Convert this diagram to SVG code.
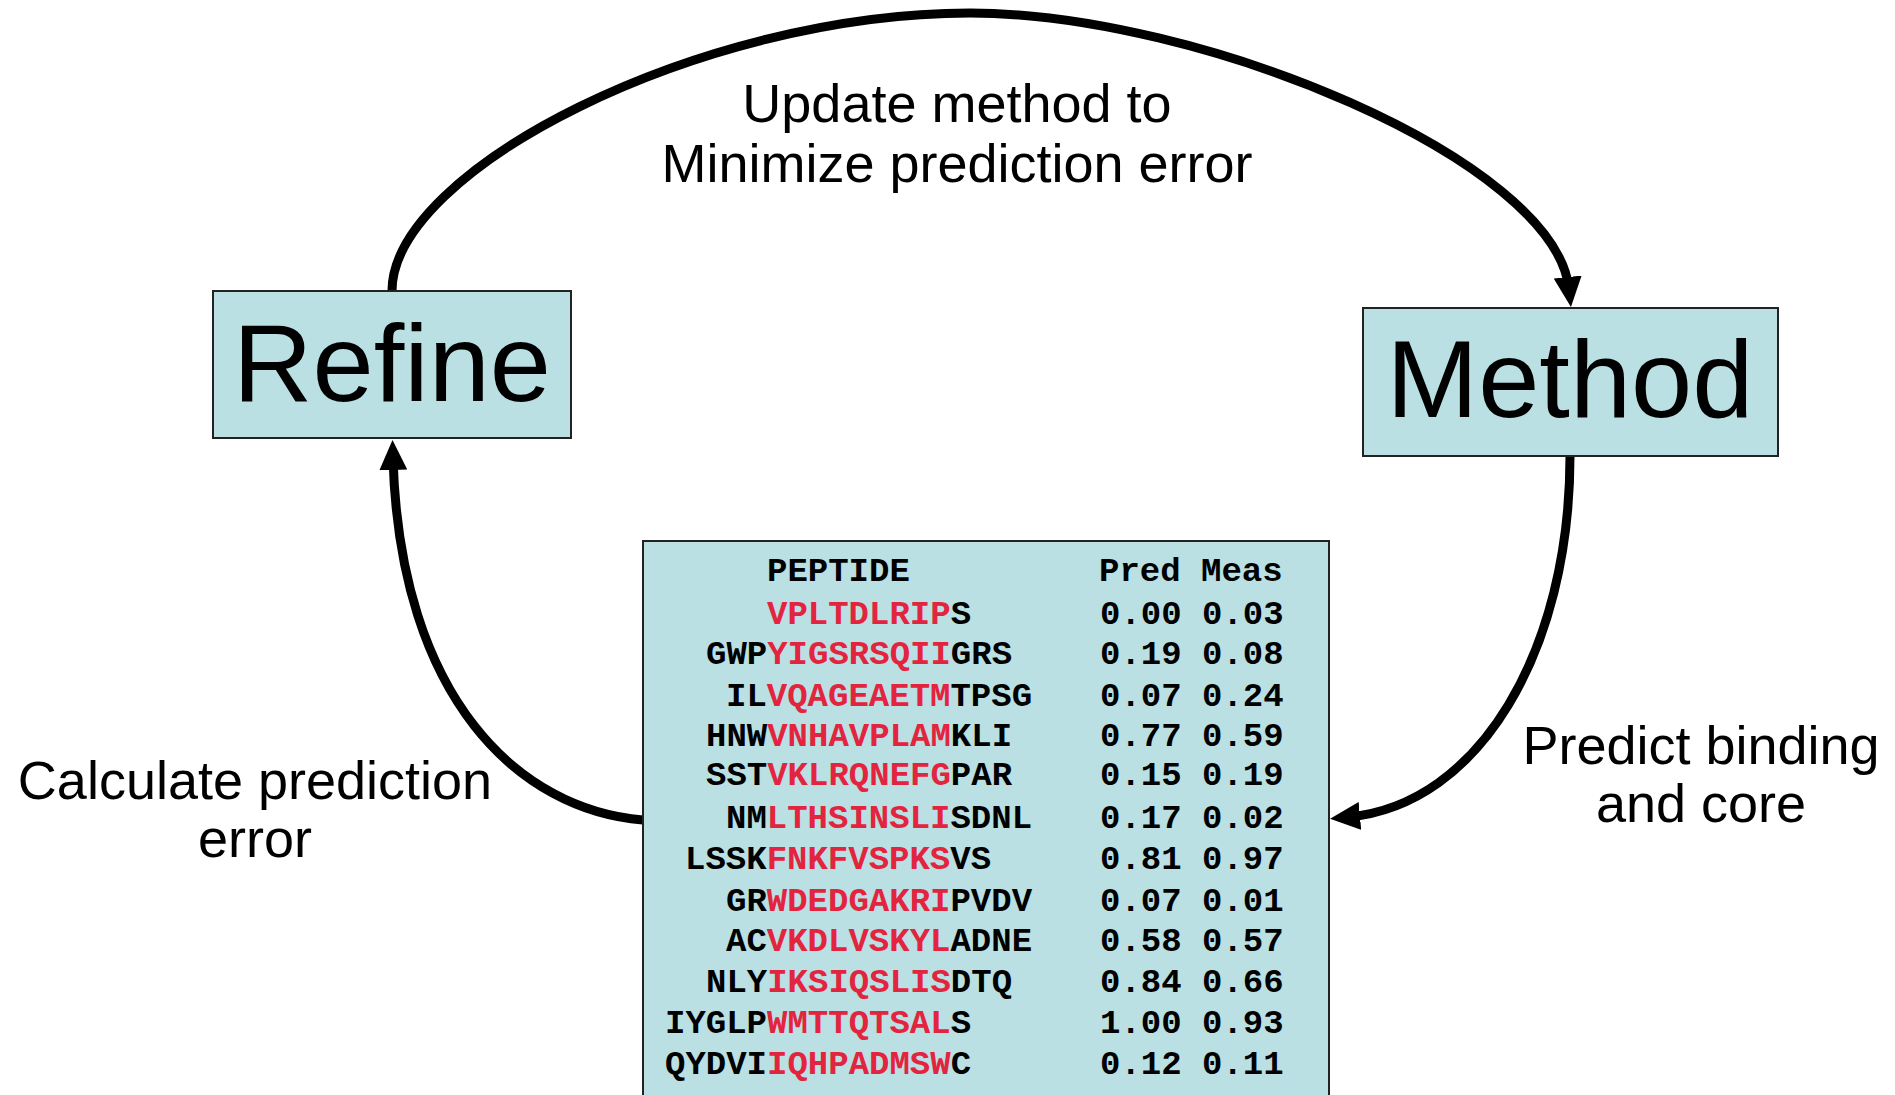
<svg xmlns="http://www.w3.org/2000/svg" width="1895" height="1095" viewBox="0 0 1895 1095">
<style>
.box{fill:#bae0e3;stroke:#222;stroke-width:2}
.big{font-family:"Liberation Sans",Arial,sans-serif;font-size:110px;fill:#000;text-anchor:middle}
.lbl{font-family:"Liberation Sans",Arial,sans-serif;font-size:54px;fill:#000;text-anchor:middle}
.mono{font-family:"Liberation Mono","Courier New",monospace;font-size:34px;font-weight:bold;fill:#000}
.core{fill:#e3243f}
.conn{fill:none;stroke:#000;stroke-width:9;marker-end:url(#ah)}
</style>
<defs>
<marker id="ah" markerUnits="userSpaceOnUse" viewBox="0 0 30 28" refX="12" refY="14" markerWidth="30" markerHeight="28" orient="auto">
<path d="M0,0 L30,14 L0,28 z" fill="#000"/>
</marker>
</defs>
<g id="connectors">
<path class="conn" d="M 392 291 C 392 170, 700 13, 970 13 C 1200 13, 1555 160, 1569 289"/>
<path class="conn" d="M 1570 456 C 1570 650, 1480 805, 1348 817"/>
<path class="conn" d="M 643 820 C 520 810, 400 700, 393 458"/>
</g>
<g id="label-update">
<text class="lbl" x="957" y="122">Update method to</text>
<text class="lbl" x="957" y="182">Minimize prediction error</text>
</g>
<g id="label-calc">
<text class="lbl" x="255" y="799">Calculate prediction</text>
<text class="lbl" x="255" y="857">error</text>
</g>
<g id="label-predict">
<text class="lbl" x="1701" y="764">Predict binding</text>
<text class="lbl" x="1701" y="822">and core</text>
</g>
<g id="refine">
<rect class="box" x="213" y="291" width="358" height="147"/>
<text class="big" x="392" y="401">Refine</text>
</g>
<g id="method">
<rect class="box" x="1363" y="308" width="415" height="148"/>
<text class="big" x="1570" y="417">Method</text>
</g>
<g id="table">
<rect class="box" x="643" y="541" width="686" height="570"/>
<text class="mono" x="767" y="581">PEPTIDE</text>
<text class="mono" x="1099" y="581">Pred Meas</text>
<text class="mono" x="767" y="624"><tspan class="core">VPLTDLRIP</tspan>S</text>
<text class="mono" x="706" y="664">GWP<tspan class="core">YIGSRSQII</tspan>GRS</text>
<text class="mono" x="726" y="706">IL<tspan class="core">VQAGEAETM</tspan>TPSG</text>
<text class="mono" x="706" y="746">HNW<tspan class="core">VNHAVPLAM</tspan>KLI</text>
<text class="mono" x="706" y="785">SST<tspan class="core">VKLRQNEFG</tspan>PAR</text>
<text class="mono" x="726" y="828">NM<tspan class="core">LTHSINSLI</tspan>SDNL</text>
<text class="mono" x="685" y="869">LSSK<tspan class="core">FNKFVSPKS</tspan>VS</text>
<text class="mono" x="726" y="911">GR<tspan class="core">WDEDGAKRI</tspan>PVDV</text>
<text class="mono" x="726" y="951">AC<tspan class="core">VKDLVSKYL</tspan>ADNE</text>
<text class="mono" x="706" y="992">NLY<tspan class="core">IKSIQSLIS</tspan>DTQ</text>
<text class="mono" x="665" y="1033">IYGLP<tspan class="core">WMTTQTSAL</tspan>S</text>
<text class="mono" x="665" y="1074">QYDVI<tspan class="core">IQHPADMSW</tspan>C</text>
<text class="mono" x="1100" y="624">0.00 0.03</text>
<text class="mono" x="1100" y="664">0.19 0.08</text>
<text class="mono" x="1100" y="706">0.07 0.24</text>
<text class="mono" x="1100" y="746">0.77 0.59</text>
<text class="mono" x="1100" y="785">0.15 0.19</text>
<text class="mono" x="1100" y="828">0.17 0.02</text>
<text class="mono" x="1100" y="869">0.81 0.97</text>
<text class="mono" x="1100" y="911">0.07 0.01</text>
<text class="mono" x="1100" y="951">0.58 0.57</text>
<text class="mono" x="1100" y="992">0.84 0.66</text>
<text class="mono" x="1100" y="1033">1.00 0.93</text>
<text class="mono" x="1100" y="1074">0.12 0.11</text>
</g>
</svg>
